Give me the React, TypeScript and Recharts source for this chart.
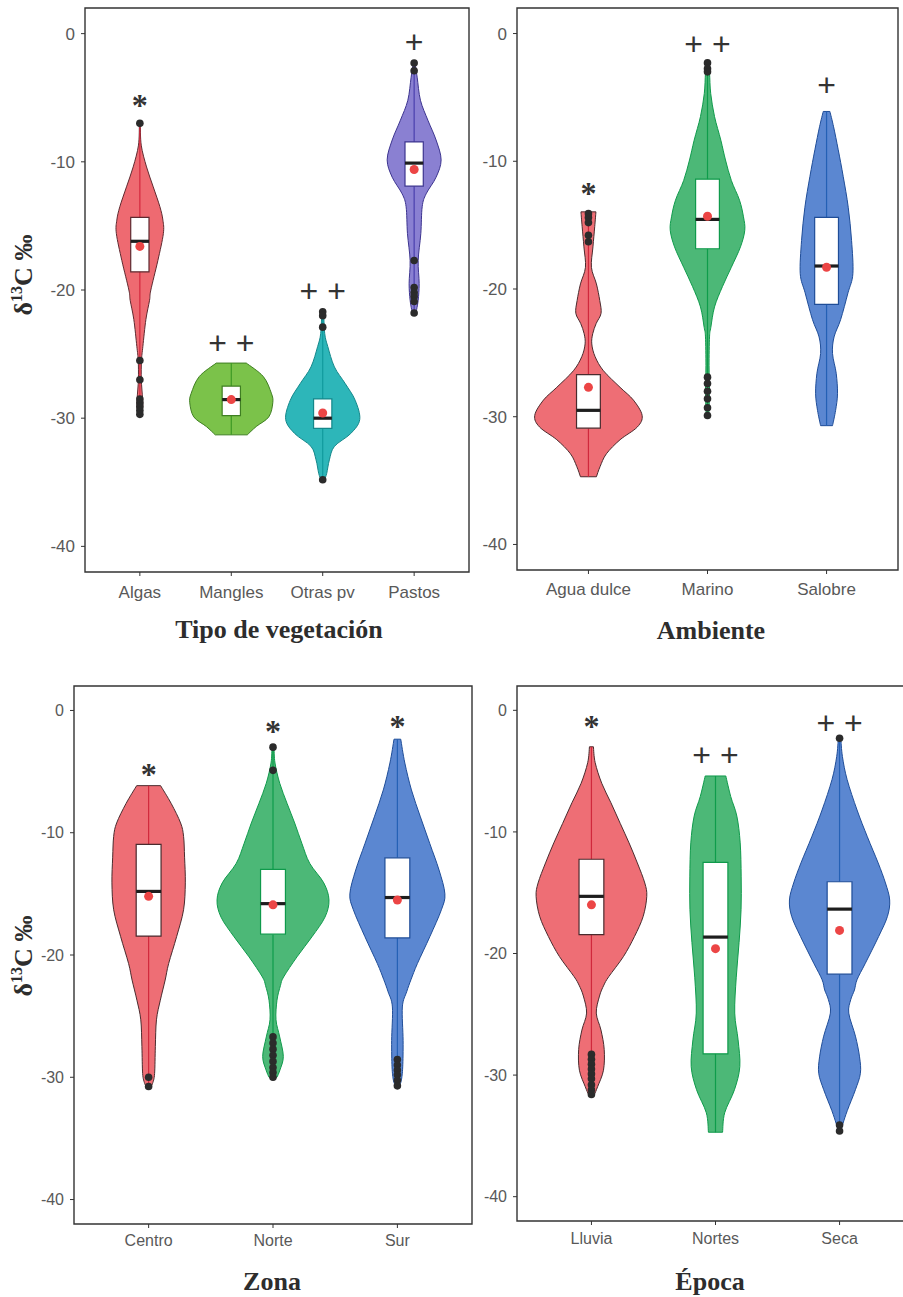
import React from 'react';
import { ScatterChart, Scatter, XAxis, YAxis, ReferenceArea } from 'recharts';

type Pt = { x: number; y: number };
type Profile = [number, number][]; // [δ13C value, half width in category units]

// ---- Tipo de vegetación ----
const vegCats = ['Algas', 'Mangles', 'Otras pv', 'Pastos'];
const algasProfile: Profile = [
  [-7.0, 0.005], [-8.7, 0.015], [-10.4, 0.073], [-11.95, 0.146], [-13.5, 0.219], [-14.55, 0.252],
  [-15.6, 0.257], [-17.7, 0.197], [-20.0, 0.12], [-20.8, 0.106], [-22.3, 0.066], [-24.4, 0.033],
  [-25.5, 0.018], [-27.0, 0.016], [-28.5, 0.03], [-29.2, 0.03], [-29.9, 0.012],
];
const manglesProfile: Profile = [
  [-25.7, 0.164], [-26.75, 0.35], [-28.05, 0.438], [-28.8, 0.454], [-29.9, 0.41], [-30.65, 0.273], [-31.3, 0.175],
];
const otrasProfile: Profile = [
  [-21.7, 0.01], [-23.4, 0.022], [-24.4, 0.055], [-26.0, 0.128], [-27.3, 0.246], [-28.6, 0.355],
  [-30.1, 0.405], [-31.2, 0.306], [-32.2, 0.128], [-33.25, 0.073], [-34.3, 0.044], [-34.8, 0.02],
];
const pastosProfile: Profile = [
  [-2.3, 0.01], [-3.4, 0.033], [-5.2, 0.069], [-6.75, 0.15], [-8.3, 0.24], [-9.85, 0.295], [-11.2, 0.24],
  [-12.5, 0.131], [-13.5, 0.088], [-15.6, 0.073], [-17.7, 0.044], [-19.5, 0.055], [-20.8, 0.044], [-21.8, 0.02],
];
const vegBoxes: [number, number, number][] = [[-18.58, -16.2, -14.34], [-29.8, -28.55, -27.5], [-30.8, -30.0, -28.5], [-11.9, -10.1, -8.45]];
const vegMeans = [-16.6, -28.55, -29.6, -10.6];
const vegOutliers = [
  [-7.0, -25.5, -27.0, -28.5, -28.8, -29.1, -29.4, -29.7],
  [],
  [-21.7, -22.0, -22.9, -34.8],
  [-2.3, -2.9, -17.7, -19.8, -20.2, -20.5, -20.9, -21.8],
];
const vegMarks = ['*', '+ +', '+ +', '+'];
const vegMarkY = [-5.25, -24.15, -20.05, -0.65];

// ---- Ambiente ----
const ambCats = ['Agua dulce', 'Marino', 'Salobre'];
const aguaProfile: Profile = [
  [-13.96, 0.063], [-15.1, 0.053], [-16.7, 0.038], [-18.3, 0.025], [-19.6, 0.067], [-20.9, 0.095],
  [-21.9, 0.106], [-22.7, 0.065], [-23.5, 0.036], [-24.3, 0.028], [-25.3, 0.056], [-26.4, 0.126],
  [-27.7, 0.266], [-28.7, 0.378], [-29.9, 0.451], [-30.8, 0.411], [-31.8, 0.266], [-32.9, 0.151],
  [-33.9, 0.098], [-34.7, 0.067],
];
const marinoProfile: Profile = [
  [-2.3, 0.008], [-3.1, 0.017], [-4.7, 0.027], [-6.5, 0.059], [-8.35, 0.112], [-9.9, 0.151], [-11.5, 0.2],
  [-13.05, 0.269], [-14.35, 0.302], [-15.4, 0.313], [-16.7, 0.277], [-18.3, 0.2], [-19.8, 0.126],
  [-21.4, 0.059], [-23.0, 0.028], [-23.75, 0.017], [-26.0, 0.013], [-28.0, 0.017], [-30.0, 0.01],
];
const salobreProfile: Profile = [
  [-6.1, 0.028], [-7.3, 0.059], [-9.1, 0.098], [-11.2, 0.14], [-13.6, 0.182], [-16.2, 0.21], [-18.8, 0.221],
  [-20.3, 0.18], [-22.4, 0.118], [-23.75, 0.063], [-25.05, 0.05], [-26.6, 0.081], [-28.2, 0.092],
  [-29.5, 0.076], [-30.7, 0.05],
];
const ambBoxes: [number, number, number][] = [[-30.9, -29.5, -26.7], [-16.85, -14.55, -11.4], [-21.2, -18.2, -14.4]];
const ambMeans = [-27.7, -14.3, -18.3];
const ambOutliers = [
  [-14.1, -14.4, -14.8, -15.8, -16.3],
  [-2.3, -2.75, -3.0, -26.9, -27.4, -28.0, -28.6, -29.3, -29.9],
  [],
];
const ambMarks = ['*', '+ +', '+'];
const ambMarkY = [-12.1, -0.8, -4.05];

// ---- Zona ----
const zonaCats = ['Centro', 'Norte', 'Sur'];
const centroProfile: Profile = [
  [-6.15, 0.096], [-7.6, 0.181], [-9.2, 0.257], [-10.3, 0.281], [-12.0, 0.289], [-14.1, 0.295],
  [-16.3, 0.281], [-18.5, 0.225], [-20.7, 0.161], [-22.05, 0.133], [-23.7, 0.094], [-25.3, 0.063],
  [-27.5, 0.054], [-29.7, 0.048], [-30.5, 0.032], [-30.8, 0.015],
];
const norteProfile: Profile = [
  [-3.0, 0.008], [-4.3, 0.016], [-5.95, 0.054], [-7.6, 0.113], [-9.2, 0.174], [-10.9, 0.233],
  [-12.5, 0.295], [-14.1, 0.408], [-15.5, 0.45], [-16.9, 0.418], [-18.5, 0.314], [-20.15, 0.193],
  [-21.8, 0.085], [-22.5, 0.06], [-23.7, 0.032], [-25.3, 0.024], [-26.7, 0.054], [-28.3, 0.083],
  [-29.4, 0.056], [-30.0, 0.032],
];
const surProfile: Profile = [
  [-2.35, 0.027], [-4.3, 0.06], [-6.5, 0.113], [-8.7, 0.185], [-10.9, 0.261], [-13.05, 0.335],
  [-15.0, 0.382], [-16.3, 0.354], [-18.5, 0.261], [-20.7, 0.161], [-22.0, 0.11], [-23.0, 0.075],
  [-24.25, 0.04], [-27.0, 0.046], [-29.15, 0.043], [-30.25, 0.032], [-30.7, 0.015],
];
const zonaBoxes: [number, number, number][] = [[-18.45, -14.8, -10.95], [-18.3, -15.8, -13.0], [-18.6, -15.3, -12.05]];
const zonaMeans = [-15.2, -15.9, -15.5];
const zonaOutliers = [
  [-30.0, -30.75],
  [-3.0, -4.9, -26.7, -27.2, -27.7, -28.2, -28.7, -29.2, -29.6, -30.0],
  [-28.55, -29.0, -29.4, -29.8, -30.25, -30.7],
];
const zonaMarks = ['*', '*', '*'];
const zonaMarkY = [-4.85, -1.35, -0.9];

// ---- Época ----
const epocaCats = ['Lluvia', 'Nortes', 'Seca'];
const lluviaProfile: Profile = [
  [-3.0, 0.016], [-4.3, 0.03], [-6.0, 0.083], [-7.6, 0.157], [-9.3, 0.232], [-10.9, 0.303],
  [-12.55, 0.37], [-14.2, 0.43], [-15.3, 0.446], [-16.95, 0.417], [-18.6, 0.347], [-20.25, 0.258],
  [-21.9, 0.14], [-22.6, 0.1], [-23.5, 0.065], [-24.9, 0.039], [-26.3, 0.077], [-27.9, 0.103],
  [-29.6, 0.097], [-30.95, 0.05], [-31.6, 0.024],
];
const nortesProfile: Profile = [
  [-5.4, 0.083], [-7.1, 0.123], [-8.7, 0.172], [-10.9, 0.199], [-13.7, 0.207], [-16.4, 0.206],
  [-19.1, 0.19], [-22.0, 0.167], [-24.9, 0.155], [-27.1, 0.182], [-29.3, 0.196], [-31.2, 0.153],
  [-33.1, 0.074], [-34.7, 0.057],
];
const secaProfile: Profile = [
  [-2.3, 0.01], [-3.8, 0.023], [-5.7, 0.061], [-8.2, 0.141], [-10.4, 0.224], [-12.55, 0.311],
  [-14.2, 0.37], [-15.6, 0.404], [-16.95, 0.386], [-18.6, 0.315], [-20.8, 0.208], [-22.15, 0.141],
  [-23.0, 0.12], [-23.8, 0.09], [-24.9, 0.074], [-26.8, 0.128], [-28.5, 0.161], [-29.85, 0.168],
  [-31.2, 0.128], [-32.9, 0.063], [-34.0, 0.027], [-34.65, 0.01],
];
const epocaBoxes: [number, number, number][] = [[-18.45, -15.3, -12.25], [-28.25, -18.65, -12.5], [-21.7, -16.35, -14.1]];
const epocaMeans = [-16.0, -19.6, -18.1];
const epocaOutliers = [
  [-28.3, -28.7, -29.1, -29.5, -29.9, -30.3, -30.8, -31.2, -31.6],
  [],
  [-2.3, -34.1, -34.6],
];
const epocaMarks = ['*', '+ +', '+ +'];
const epocaMarkY = [-0.9, -3.65, -1.05];

const yTicks = [-40, -30, -20, -10, 0];

// colours
const vegPal = {
  fill: ['#ee6a71', '#7bc24a', '#2db6b9', '#8a80d2'],
  edge: ['#5e2a30', '#3f7f22', '#14878a', '#3c348f'],
  whisk: ['#d3283d', '#3e9a25', '#109a9d', '#4a3fae'],
};
const triPal = {
  fill: ['#ee6e75', '#4cb877', '#5b87d1'],
  edge: ['#4a2b2e', '#0f9a4b', '#1f4d98'],
  whisk: ['#d0283c', '#0e9c4b', '#2460b5'],
};

const BOX = 0.1;
const AXIS_FONT = '"Liberation Sans", Arial, sans-serif';
const TITLE_FONT = '"Liberation Serif", "Times New Roman", serif';

const outline = (i: number, prof: Profile): Pt[] => [
  ...prof.map(([y, w]) => ({ x: i + w, y })),
  ...[...prof].reverse().map(([y, w]) => ({ x: i - w, y })),
];

// catmull-rom through one side of the violin
const side = (p: Pt[]) => {
  let d = '';
  for (let i = 0; i < p.length - 1; i++) {
    const a = p[i - 1] ?? p[i], b = p[i], c = p[i + 1], e = p[i + 2] ?? c;
    d += `C${b.x + (c.x - a.x) / 6},${b.y + (c.y - a.y) / 6} ${c.x - (e.x - b.x) / 6},${c.y - (e.y - b.y) / 6} ${c.x},${c.y}`;
  }
  return d;
};

const violinPath = (pts: Pt[]) => {
  const n = pts.length / 2;
  const r = pts.slice(0, n), l = pts.slice(n);
  return `M${r[0].x},${r[0].y}${side(r)}L${l[0].x},${l[0].y}${side(l)}Z`;
};

const blank = () => <g />;
const dot = (fill: string, r: number) => (p: any) => <circle cx={p.cx} cy={p.cy} r={r} fill={fill} />;

const chunk = (pts: Pt[], k: number) => {
  const out: Pt[][] = [];
  for (let i = 0; i < pts.length; i += k) out.push(pts.slice(i, i + k));
  return out;
};

interface PanelProps {
  cats: string[]; profiles: Profile[]; boxes: [number, number, number][]; means: number[];
  outliers: number[][]; marks: string[]; markY: number[]; pal: typeof triPal;
  left: number; top: number; width: number; height: number;
  margin: { top: number; right: number; left: number; bottom: number };
  yWidth: number; xHeight: number; fontSize: number; xGap: number;
}

function Panel(props: PanelProps) {
  const { cats, profiles, boxes, means, outliers, marks, markY, pal } = props;
  const n = cats.length;
  const idx = cats.map((_, i) => i);

  const whiskers = profiles.flatMap((p, i) => [{ x: i, y: p[0][0] }, { x: i, y: p[p.length - 1][0] }]);
  const boxPts = boxes.flatMap(([lo, , hi], i) => [
    { x: i - BOX, y: hi }, { x: i + BOX, y: hi }, { x: i + BOX, y: lo }, { x: i - BOX, y: lo },
  ]);
  const medPts = boxes.flatMap(([, m], i) => [{ x: i - BOX, y: m }, { x: i + BOX, y: m }]);
  const meanPts = means.map((y, i) => ({ x: i, y }));
  const outPts = outliers.flatMap((o, i) => o.map((y) => ({ x: i, y })));
  const markPts = marks.map((t, i) => ({ x: i, y: markY[i], t }));

  const tick = { fill: '#595959', fontSize: props.fontSize, fontFamily: AXIS_FONT };

  return (
    <div style={{ position: 'absolute', left: props.left, top: props.top }}>
      <ScatterChart width={props.width} height={props.height} margin={props.margin}>
        <XAxis
          type="number" dataKey="x" domain={[-0.6, n - 0.4]} allowDataOverflow
          ticks={idx} interval={0} tickFormatter={(v: number) => cats[v] ?? ''}
          axisLine={false} tickLine={{ stroke: '#333' }} tickSize={4} tickMargin={props.xGap}
          tick={tick} height={props.xHeight}
        />
        <YAxis
          type="number" dataKey="y" domain={[-42, 2]} allowDataOverflow
          ticks={yTicks} interval={0}
          axisLine={false} tickLine={{ stroke: '#333' }} tickSize={4} tickMargin={6}
          tick={tick} width={props.yWidth}
        />
        {profiles.map((p, i) => (
          <Scatter
            key={cats[i]} data={outline(i, p)} shape={blank} isAnimationActive={false}
            line={(lp: any) => <path d={violinPath(lp.points)} fill={pal.fill[i]} stroke={pal.edge[i]} strokeWidth={1} />}
          />
        ))}
        <Scatter
          data={whiskers} shape={blank} isAnimationActive={false}
          line={(lp: any) => (
            <g>{chunk(lp.points, 2).map((s, i) => (
              <line key={i} x1={s[0].x} y1={s[0].y} x2={s[1].x} y2={s[1].y} stroke={pal.whisk[i]} strokeWidth={1.2} />
            ))}</g>
          )}
        />
        <Scatter
          data={boxPts} shape={blank} isAnimationActive={false}
          line={(lp: any) => (
            <g>{chunk(lp.points, 4).map((s, i) => (
              <polygon key={i} points={s.map((q) => `${q.x},${q.y}`).join(' ')} fill="#fff" stroke={pal.edge[i]} strokeWidth={1.2} />
            ))}</g>
          )}
        />
        <Scatter
          data={medPts} shape={blank} isAnimationActive={false}
          line={(lp: any) => (
            <g>{chunk(lp.points, 2).map((s, i) => (
              <line key={i} x1={s[0].x} y1={s[0].y} x2={s[1].x} y2={s[1].y} stroke="#1e1e1e" strokeWidth={3.2} />
            ))}</g>
          )}
        />
        <Scatter data={outPts} shape={dot('#2b2b2b', 3.8)} isAnimationActive={false} />
        <Scatter data={meanPts} shape={dot('#ec4545', 4.5)} isAnimationActive={false} />
        <Scatter
          data={markPts} isAnimationActive={false}
          shape={(p: any) => {
            const star = p.payload.t === '*';
            return (
              <text
                x={p.cx} y={p.cy} dy={star ? '0.14em' : 0} textAnchor="middle" dominantBaseline="central"
                fontFamily={star ? TITLE_FONT : AXIS_FONT} fontWeight={star ? 'bold' : 'normal'}
                fontSize={star ? 32 : 32} fill="#333"
              >{p.payload.t}</text>
            );
          }}
        />
        <ReferenceArea x1={-0.6} x2={n - 0.4} y1={-42} y2={2} fill="none" stroke="#333" strokeWidth={1.4} />
      </ScatterChart>
    </div>
  );
}

const YTitle = ({ cy }: { cy: number }) => (
  <text transform={`translate(32,${cy}) rotate(-90)`} textAnchor="middle" fontFamily={TITLE_FONT} fontWeight="bold" fontSize={26} fill="#2d2d2d">
    δ<tspan dy={-10} fontSize={16}>13</tspan><tspan dy={10}>C ‰</tspan>
  </text>
);

const XTitle = ({ x, y, text }: { x: number; y: number; text: string }) => (
  <text x={x} y={y} textAnchor="middle" fontFamily={TITLE_FONT} fontWeight="bold" fontSize={26} fill="#2d2d2d">{text}</text>
);

export default function App() {
  return (
    <div style={{ position: 'absolute', left: 0, top: 0, width: 903, height: 1297, overflow: 'hidden', background: '#fff' }}>
      <Panel
        cats={vegCats} profiles={[algasProfile, manglesProfile, otrasProfile, pastosProfile]}
        boxes={vegBoxes} means={vegMeans} outliers={vegOutliers} marks={vegMarks} markY={vegMarkY} pal={vegPal}
        left={0} top={0} width={480} height={655} margin={{ top: 8, right: 11, left: 0, bottom: 0 }}
        yWidth={85} xHeight={83} fontSize={17} xGap={10}
      />
      <Panel
        cats={ambCats} profiles={[aguaProfile, marinoProfile, salobreProfile]}
        boxes={ambBoxes} means={ambMeans} outliers={ambOutliers} marks={ambMarks} markY={ambMarkY} pal={triPal}
        left={460} top={0} width={443} height={655} margin={{ top: 8, right: 5, left: 0, bottom: 0 }}
        yWidth={57} xHeight={85} fontSize={17} xGap={9}
      />
      <Panel
        cats={zonaCats} profiles={[centroProfile, norteProfile, surProfile]}
        boxes={zonaBoxes} means={zonaMeans} outliers={zonaOutliers} marks={zonaMarks} markY={zonaMarkY} pal={triPal}
        left={0} top={670} width={480} height={627} margin={{ top: 16, right: 8, left: 0, bottom: 0 }}
        yWidth={74} xHeight={73} fontSize={16} xGap={7}
      />
      <Panel
        cats={epocaCats} profiles={[lluviaProfile, nortesProfile, secaProfile]}
        boxes={epocaBoxes} means={epocaMeans} outliers={epocaOutliers} marks={epocaMarks} markY={epocaMarkY} pal={triPal}
        left={460} top={670} width={460} height={627} margin={{ top: 16, right: 6, left: 0, bottom: 0 }}
        yWidth={57} xHeight={76} fontSize={16} xGap={8}
      />
      <svg width={903} height={1297} style={{ position: 'absolute', left: 0, top: 0, pointerEvents: 'none' }}>
        <YTitle cy={275} />
        <YTitle cy={956} />
        <XTitle x={279} y={638} text="Tipo de vegetación" />
        <XTitle x={711} y={639} text="Ambiente" />
        <XTitle x={272} y={1290} text="Zona" />
        <XTitle x={710} y={1290} text="Época" />
      </svg>
    </div>
  );
}
